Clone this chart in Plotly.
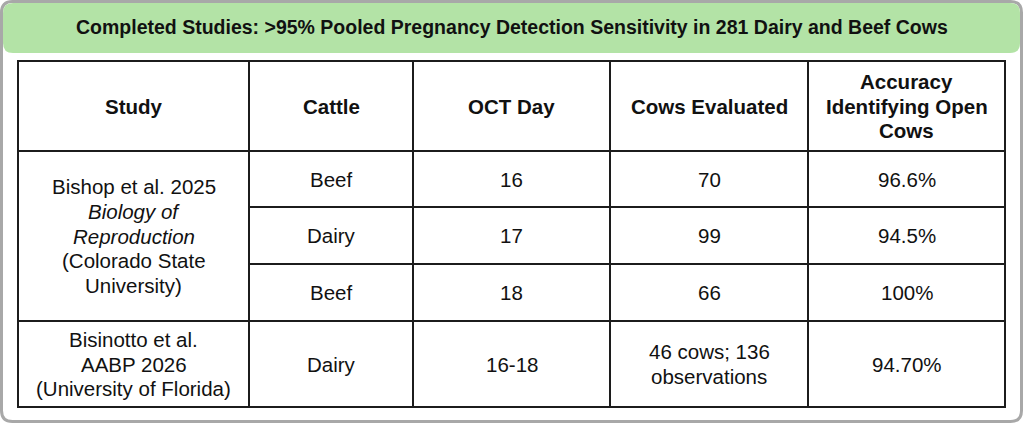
import plotly.graph_objects as go

# ---- data ----
title = "Completed Studies: >95% Pooled Pregnancy Detection Sensitivity in 281 Dairy and Beef Cows"
headers = ["Study", "Cattle", "OCT Day", "Cows Evaluated", "Accuracy<br>Identifying Open<br>Cows"]
studies = ["Bishop et al. 2025<br><i>Biology of</i><br><i>Reproduction</i><br>(Colorado State<br>University)",
           "Bisinotto et al.<br>AABP 2026<br>(University of Florida)"]
study_rows = [3, 1]
cattle = ["Beef", "Dairy", "Beef", "Dairy"]
oct_day = ["16", "17", "18", "16-18"]
cows_evaluated = ["70", "99", "66", "46 cows; 136<br>observations"]
accuracy = ["96.6%", "94.5%", "100%", "94.70%"]

# ---- layout geometry (pixels) ----
W, H = 1024, 424
col_edges = [18, 249, 413, 610, 808, 1005]
row_edges = [61, 151, 207, 264, 321, 407]
FONT = "Arial, 'Liberation Sans', sans-serif"
LINE = "#1c1c1c"
FS = 20.5
LS = 24.8


def rrect(x0, y0, x1, y1, r):
    return (f"M {x0+r},{y0} L {x1-r},{y0} Q {x1},{y0} {x1},{y0+r} "
            f"L {x1},{y1-r} Q {x1},{y1} {x1-r},{y1} L {x0+r},{y1} "
            f"Q {x0},{y1} {x0},{y1-r} L {x0},{y0+r} Q {x0},{y0} {x0+r},{y0} Z")


fig = go.Figure()
shapes = []
shapes.append(dict(type="path", path=rrect(1.5, 1.5, 1021.5, 421.5, 11),
                   line=dict(color="#a8a8a8", width=3), fillcolor="white", layer="below"))
shapes.append(dict(type="path", path=rrect(3, 3, 1020, 53, 10),
                   line=dict(width=0), fillcolor="#b3e3a6", layer="below"))
x0, x1 = col_edges[0], col_edges[-1]
y0, y1 = row_edges[0], row_edges[-1]
shapes.append(dict(type="rect", x0=x0, x1=x1, y0=y0, y1=y1, line=dict(color=LINE, width=2)))
for cx in col_edges[1:-1]:
    shapes.append(dict(type="line", x0=cx, x1=cx, y0=y0, y1=y1, line=dict(color=LINE, width=2)))
start = 1
for span in study_rows:
    end = start + span
    for r in range(start, end):
        xa = x0 if r == start else col_edges[1]
        shapes.append(dict(type="line", x0=xa, x1=x1, y0=row_edges[r], y1=row_edges[r],
                           line=dict(color=LINE, width=2)))
    start = end

annotations = []


def add_text(x, yc, text, bold=False, size=FS):
    lines = text.split("<br>")
    n = len(lines)
    for k, ln in enumerate(lines):
        t = f"<b>{ln}</b>" if bold else ln
        annotations.append(dict(x=x, y=yc + (k - (n - 1) / 2) * LS, text=t, showarrow=False,
                                xanchor="center", yanchor="middle",
                                font=dict(family=FONT, size=size, color="#111")))


add_text(512, 27, title, bold=True, size=19.5)
ccent = [(col_edges[i] + col_edges[i + 1]) / 2 for i in range(5)]
rcent = [(row_edges[i] + row_edges[i + 1]) / 2 for i in range(5)]
for i, h in enumerate(headers):
    add_text(ccent[i], rcent[0], h, bold=True)
start = 1
for s, span in zip(studies, study_rows):
    yc = (row_edges[start] + row_edges[start + span]) / 2
    add_text(ccent[0], yc, s)
    start += span
for r in range(4):
    for c, col in enumerate([cattle, oct_day, cows_evaluated, accuracy]):
        add_text(ccent[c + 1], rcent[r + 1], col[r])

fig.update_layout(width=W, height=H, margin=dict(l=0, r=0, t=0, b=0),
                  paper_bgcolor="white", plot_bgcolor="white",
                  xaxis=dict(range=[0, W], visible=False, fixedrange=True),
                  yaxis=dict(range=[H, 0], visible=False, fixedrange=True),
                  shapes=shapes, annotations=annotations, showlegend=False)
fig.write_html("out.html", config={"displayModeBar": False},
               post_script="document.body.style.margin='0';document.body.style.overflow='hidden';")
